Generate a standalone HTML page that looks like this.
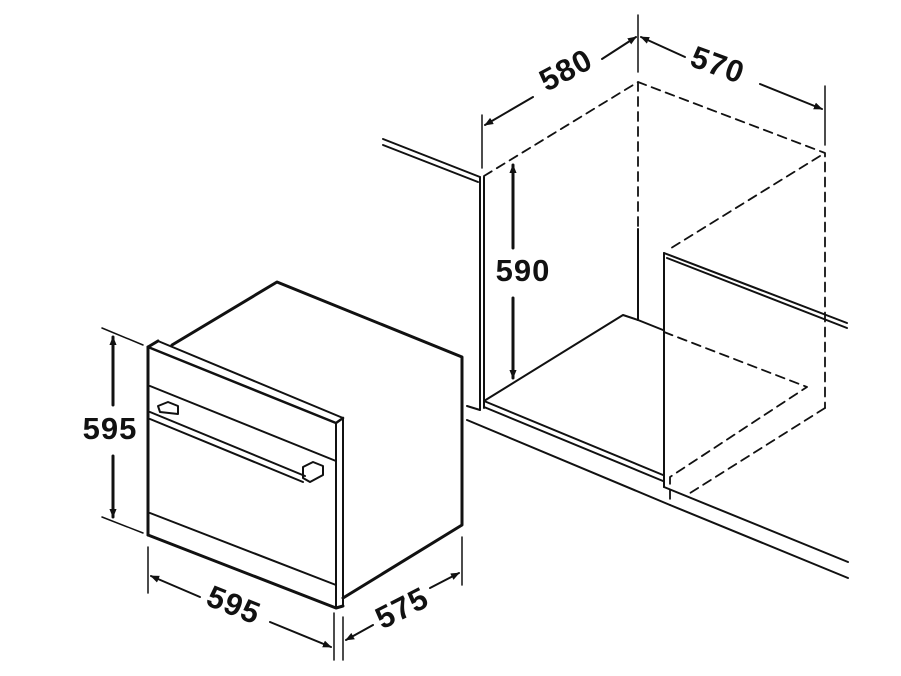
<!DOCTYPE html>
<html><head><meta charset="utf-8"><style>
html,body{margin:0;padding:0;background:#fff;}
svg{display:block}
text{font-family:"Liberation Sans",sans-serif;font-weight:bold;font-size:31px;fill:#111;letter-spacing:1px;}
</style></head><body>
<svg width="901" height="676" viewBox="0 0 901 676" xmlns="http://www.w3.org/2000/svg">
<defs>
<marker id="b" viewBox="0 0 10 10" refX="9" refY="5" markerWidth="9" markerHeight="9" orient="auto-start-reverse" markerUnits="userSpaceOnUse">
<path d="M0,1 L10,5 L0,9 z" fill="#111"/></marker>
</defs>
<g stroke="#111" fill="none" stroke-width="2" stroke-linejoin="round" stroke-linecap="round">
<line x1="383" y1="139" x2="480" y2="177"/>
<line x1="383" y1="145" x2="478" y2="182"/>
<line x1="480" y1="177" x2="480" y2="410"/>
<line x1="484" y1="177" x2="484" y2="408"/>
<line x1="467" y1="406" x2="480" y2="410"/>
<polyline points="484,401 623,315 638,320 663,330"/>
<line x1="484" y1="401" x2="663" y2="475"/>
<line x1="484" y1="407" x2="663" y2="481"/>
<line x1="638" y1="229" x2="638" y2="320"/>
<line x1="664" y1="253" x2="664" y2="487"/>
<line x1="664" y1="253" x2="847" y2="323"/>
<line x1="667" y1="258" x2="847" y2="328"/>
<line x1="664" y1="487" x2="848" y2="562"/>
<polyline points="467,420 670,505 848,578"/>
<g stroke-dasharray="9,6" stroke-width="1.8">
<polyline points="484,176 638,82 825,153 825,408"/>
<line x1="638" y1="82" x2="638" y2="229"/>
<line x1="820" y1="156" x2="668" y2="250"/>
<polyline points="664,332 807,387 670,477 670,505"/>
<line x1="825" y1="408" x2="687" y2="495"/>
</g>
<line x1="482" y1="115" x2="482" y2="168" stroke-width="1.5"/>
<line x1="638" y1="15" x2="638" y2="72" stroke-width="1.5"/>
<line x1="825" y1="86" x2="825" y2="145" stroke-width="1.5"/>
<line x1="533" y1="97" x2="485" y2="125" marker-end="url(#b)"/>
<line x1="602" y1="59" x2="636" y2="37" marker-end="url(#b)"/>
<line x1="685" y1="57" x2="641" y2="37" marker-end="url(#b)"/>
<line x1="760" y1="84" x2="822" y2="109" marker-end="url(#b)"/>
<line x1="513" y1="248" x2="513" y2="165" stroke-width="3" marker-end="url(#b)"/>
<line x1="513" y1="298" x2="513" y2="378" stroke-width="3" marker-end="url(#b)"/>

<polyline points="172,345 277,282 462,357 462,525 343,598" stroke-width="3"/>
<polyline points="158,341 343,418 343,606" stroke-width="2"/>
<line x1="336" y1="423" x2="336" y2="608" stroke-width="2"/>
<polyline points="148,347 158,341" stroke-width="3"/>
<polyline points="148,347 336,423 343,418" stroke-width="2.5"/>
<line x1="148" y1="347" x2="148" y2="535" stroke-width="3"/>
<polyline points="148,535 336,608 343,606" stroke-width="3"/>
<line x1="150" y1="386" x2="336" y2="461"/>
<line x1="150" y1="513" x2="336" y2="585"/>
<line x1="150" y1="412" x2="305" y2="476"/>
<line x1="150" y1="419" x2="303" y2="482"/>
<path d="M158,406 L168,402 L178,406 L178,414 L160,412 Z"/>
<path d="M303,467 L313,462 L323,466 L323,475 L310,482 L303,478 Z"/>
<line x1="102" y1="328" x2="143" y2="345" stroke-width="1.5"/>
<line x1="102" y1="517" x2="143" y2="533" stroke-width="1.5"/>
<line x1="113" y1="405" x2="113" y2="337" stroke-width="3" marker-end="url(#b)"/>
<line x1="113" y1="456" x2="113" y2="517" stroke-width="3" marker-end="url(#b)"/>
<line x1="148" y1="547" x2="148" y2="593" stroke-width="1.5"/>
<line x1="334" y1="613" x2="334" y2="660" stroke-width="1.5"/>
<line x1="200" y1="597" x2="151" y2="576" marker-end="url(#b)"/>
<line x1="270" y1="622" x2="331" y2="647" marker-end="url(#b)"/>
<line x1="343" y1="617" x2="343" y2="660" stroke-width="1.5"/>
<line x1="462" y1="537" x2="462" y2="585" stroke-width="1.5"/>
<line x1="373" y1="625" x2="346" y2="640" marker-end="url(#b)"/>
<line x1="430" y1="588" x2="459" y2="573" marker-end="url(#b)"/>
</g>
<text x="567" y="72" text-anchor="middle" dominant-baseline="middle" transform="rotate(-28 567 72)">580</text>
<text x="717" y="67" text-anchor="middle" dominant-baseline="middle" transform="rotate(20 717 67)">570</text>
<text x="523" y="273" text-anchor="middle" dominant-baseline="middle">590</text>
<text x="110" y="431" text-anchor="middle" dominant-baseline="middle">595</text>
<text x="233" y="607" text-anchor="middle" dominant-baseline="middle" transform="rotate(22 233 607)">595</text>
<text x="403" y="610" text-anchor="middle" dominant-baseline="middle" transform="rotate(-27 403 610)">575</text>
</svg>
</body></html>
